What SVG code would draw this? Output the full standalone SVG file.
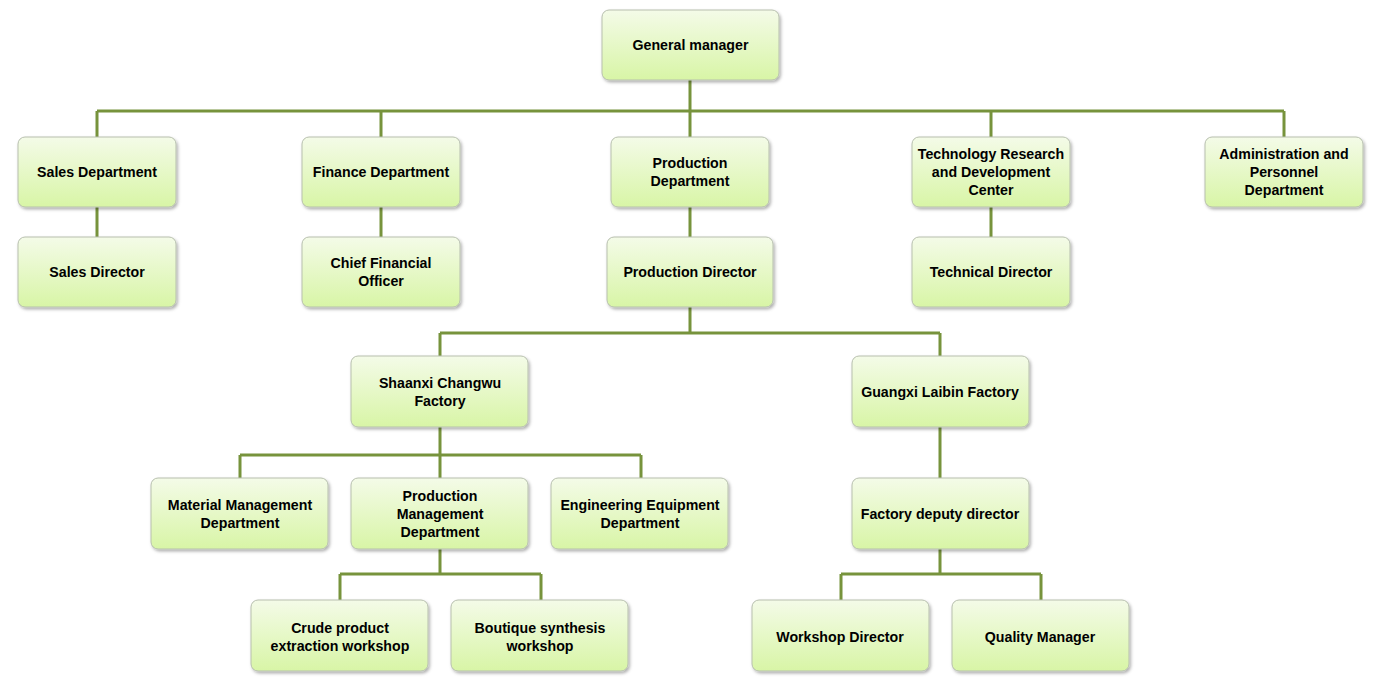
<svg xmlns="http://www.w3.org/2000/svg" width="1380" height="689" viewBox="0 0 1380 689">
<defs>
<linearGradient id="g" x1="0" y1="0" x2="0" y2="1">
<stop offset="0" stop-color="#f4fbe8"/>
<stop offset="1" stop-color="#d8f5a6"/>
</linearGradient>
<filter id="sh" x="-10%" y="-10%" width="125%" height="130%">
<feDropShadow dx="1.5" dy="2" stdDeviation="1.5" flood-color="#000" flood-opacity="0.3"/>
</filter>
</defs>
<style>
.b{fill:url(#g);stroke:#b7bfae;stroke-width:1;filter:url(#sh)}
.t{font-family:"Liberation Sans",Arial,sans-serif;font-weight:bold;font-size:14.2px;fill:#000;text-anchor:middle}
.c{stroke:#77933c;stroke-width:3;fill:none}
</style>
<rect width="1380" height="689" fill="#fff"/>
<g id="connectors">
<path class="c" d="M690 80V137M97 111H1284M97 111V137M381 111V137M991 111V137M1284 111V137"/>
<path class="c" d="M97 207V237M381 207V237M690 207V237M991 207V237"/>
<path class="c" d="M690 307V333M440 333H940M440 333V356M940 333V356"/>
<path class="c" d="M440 427V478M240 455H641M240 455V478M641 455V478M940 427V478"/>
<path class="c" d="M440 549V574M340 574H541M340 574V600M541 574V600M940 549V574M841 574H1041M841 574V600M1041 574V600"/>
</g>
<g id="gm"><rect class="b" x="602" y="10" width="177" height="70" rx="7"/><text class="t" x="690.5" y="50">General manager</text></g>
<g id="sales"><rect class="b" x="18" y="137" width="158" height="70" rx="7"/><text class="t" x="97" y="177">Sales Department</text></g>
<g id="finance"><rect class="b" x="302" y="137" width="158" height="70" rx="7"/><text class="t" x="381" y="177">Finance Department</text></g>
<g id="production"><rect class="b" x="611" y="137" width="158" height="70" rx="7"/><text class="t" x="690" y="168">Production</text><text class="t" x="690" y="186">Department</text></g>
<g id="tech"><rect class="b" x="912" y="137" width="158" height="70" rx="7"/><text class="t" x="991" y="159">Technology Research</text><text class="t" x="991" y="177">and Development</text><text class="t" x="991" y="195">Center</text></g>
<g id="admin"><rect class="b" x="1205" y="137" width="158" height="70" rx="7"/><text class="t" x="1284" y="159">Administration and</text><text class="t" x="1284" y="177">Personnel</text><text class="t" x="1284" y="195">Department</text></g>
<g id="salesdir"><rect class="b" x="18" y="237" width="158" height="70" rx="7"/><text class="t" x="97" y="277">Sales Director</text></g>
<g id="cfo"><rect class="b" x="302" y="237" width="158" height="70" rx="7"/><text class="t" x="381" y="268">Chief Financial</text><text class="t" x="381" y="286">Officer</text></g>
<g id="proddir"><rect class="b" x="607" y="237" width="166" height="70" rx="7"/><text class="t" x="690" y="277">Production Director</text></g>
<g id="techdir"><rect class="b" x="912" y="237" width="158" height="70" rx="7"/><text class="t" x="991" y="277">Technical Director</text></g>
<g id="shaanxi"><rect class="b" x="351" y="356" width="177" height="71" rx="7"/><text class="t" x="440" y="388">Shaanxi Changwu</text><text class="t" x="440" y="406">Factory</text></g>
<g id="guangxi"><rect class="b" x="852" y="356" width="177" height="71" rx="7"/><text class="t" x="940" y="397">Guangxi Laibin Factory</text></g>
<g id="material"><rect class="b" x="151" y="478" width="177" height="71" rx="7"/><text class="t" x="240" y="510">Material Management</text><text class="t" x="240" y="528">Department</text></g>
<g id="prodmgmt"><rect class="b" x="351" y="478" width="177" height="71" rx="7"/><text class="t" x="440" y="501">Production</text><text class="t" x="440" y="519">Management</text><text class="t" x="440" y="537">Department</text></g>
<g id="engineering"><rect class="b" x="551" y="478" width="177" height="71" rx="7"/><text class="t" x="640" y="510">Engineering Equipment</text><text class="t" x="640" y="528">Department</text></g>
<g id="deputy"><rect class="b" x="852" y="478" width="177" height="71" rx="7"/><text class="t" x="940" y="519">Factory deputy director</text></g>
<g id="crude"><rect class="b" x="251" y="600" width="177" height="71" rx="7"/><text class="t" x="340" y="633">Crude product</text><text class="t" x="340" y="651">extraction workshop</text></g>
<g id="boutique"><rect class="b" x="451" y="600" width="177" height="71" rx="7"/><text class="t" x="540" y="633">Boutique synthesis</text><text class="t" x="540" y="651">workshop</text></g>
<g id="workshop"><rect class="b" x="752" y="600" width="177" height="71" rx="7"/><text class="t" x="840" y="642">Workshop Director</text></g>
<g id="quality"><rect class="b" x="952" y="600" width="177" height="71" rx="7"/><text class="t" x="1040" y="642">Quality Manager</text></g>
</svg>
